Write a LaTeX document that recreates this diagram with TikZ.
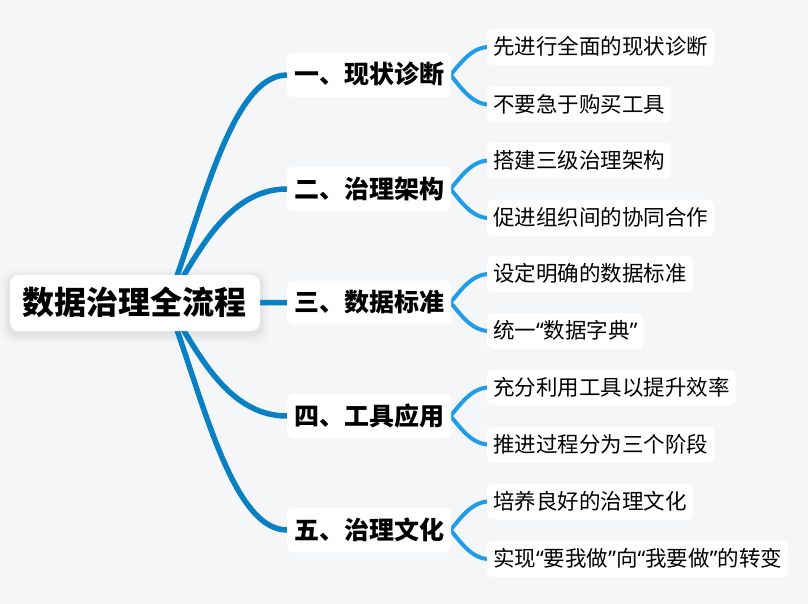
\documentclass[tikz,border=0pt]{standalone}
\usepackage{fontspec}
\setmainfont{Noto Sans CJK SC}
\newfontfamily\qf{Noto Sans}
\usetikzlibrary{backgrounds}
\definecolor{bgc}{HTML}{F5F6F8}
\definecolor{mainc}{HTML}{0A80C4}
\definecolor{leafc}{HTML}{1F9DE8}
\pgfdeclarelayer{bottom}
\pgfsetlayers{bottom,background,main}
\tikzset{
  box/.style={fill=white, rounded corners=6pt, inner ysep=0pt, text=black},
  leaf/.style={box, font=\fontsize{21.5}{26}\selectfont, text height=18.5pt, text depth=3pt, minimum height=36pt, inner xsep=6pt, anchor=west},
  branch/.style={box, font=\bfseries\fontsize{25}{30}\selectfont, text height=21.5pt, text depth=3.5pt, minimum height=44pt, inner xsep=7pt, anchor=west},
  rootbox/.style={box, rounded corners=9pt, font=\bfseries\fontsize{32}{38}\selectfont, text height=27.5pt, text depth=4.5pt, minimum height=56pt, minimum width=250pt, inner xsep=10pt},
  mainline/.style={draw=mainc, line width=5.5pt},
  leafline/.style={draw=leafc, line width=4pt},
}
\begin{document}
\begin{tikzpicture}[x=1pt,y=-1pt]
\begin{pgfonlayer}{bottom}
\fill[bgc] (0,0) rectangle (808,604);
\end{pgfonlayer}
\useasboundingbox (0,0) rectangle (808,604);

\node[rootbox] (root) at (135,303) {数据治理全流程};

\node[branch] (b1) at (287,75) {一、现状诊断};
\node[branch] (b2) at (287,189) {二、治理架构};
\node[branch] (b3) at (287,302.5) {三、数据标准};
\node[branch] (b4) at (287,416) {四、工具应用};
\node[branch] (b5) at (287,530) {五、治理文化};

\node[leaf] (l1a) at (487,47) {先进行全面的现状诊断};
\node[leaf] (l1b) at (487,104.5) {不要急于购买工具};
\node[leaf] (l2a) at (487,160.5) {搭建三级治理架构};
\node[leaf] (l2b) at (487,218) {促进组织间的协同合作};
\node[leaf] (l3a) at (487,274) {设定明确的数据标准};
\node[leaf] (l3b) at (487,331) {统一{\qf“}数据字典{\qf”}};
\node[leaf] (l4a) at (487,387.5) {充分利用工具以提升效率};
\node[leaf] (l4b) at (487,444.5) {推进过程分为三个阶段};
\node[leaf] (l5a) at (487,501.5) {培养良好的治理文化};
\node[leaf] (l5b) at (487,559) {实现{\qf“}要我做{\qf”}向{\qf“}我要做{\qf”}的转变};

\begin{pgfonlayer}{background}
\foreach \s/\o in {9/0.015,6/0.025,3/0.035}{
  \fill[black, opacity=\o, rounded corners=12pt]
    ([shift={(-\s,-\s+3)}]root.north west) rectangle ([shift={(\s,\s+3)}]root.south east);
}
\coordinate (rs) at ([xshift=32pt]root.center);
\draw[mainline] (rs) .. controls +(33,-83) and +(-57,0) .. (b1.west);
\draw[mainline] (rs) .. controls +(28,-43) and +(-62,0) .. (b2.west);
\draw[mainline] (rs) -- (b3.west);
\draw[mainline] (rs) .. controls +(28,43) and +(-62,0) .. (b4.west);
\draw[mainline] (rs) .. controls +(33,83) and +(-57,0) .. (b5.west);
\foreach \b/\l in {b1/l1a,b2/l2a,b3/l3a,b4/l4a,b5/l5a}{
  \draw[leafline] ([xshift=-1pt]\b.east) .. controls +(9,-10) and +(-18,0) .. ([xshift=2pt]\l.west);
}
\foreach \b/\l in {b1/l1b,b2/l2b,b3/l3b,b4/l4b,b5/l5b}{
  \draw[leafline] ([xshift=-1pt]\b.east) .. controls +(9,10) and +(-18,0) .. ([xshift=2pt]\l.west);
}
\end{pgfonlayer}
\end{tikzpicture}
\end{document}
